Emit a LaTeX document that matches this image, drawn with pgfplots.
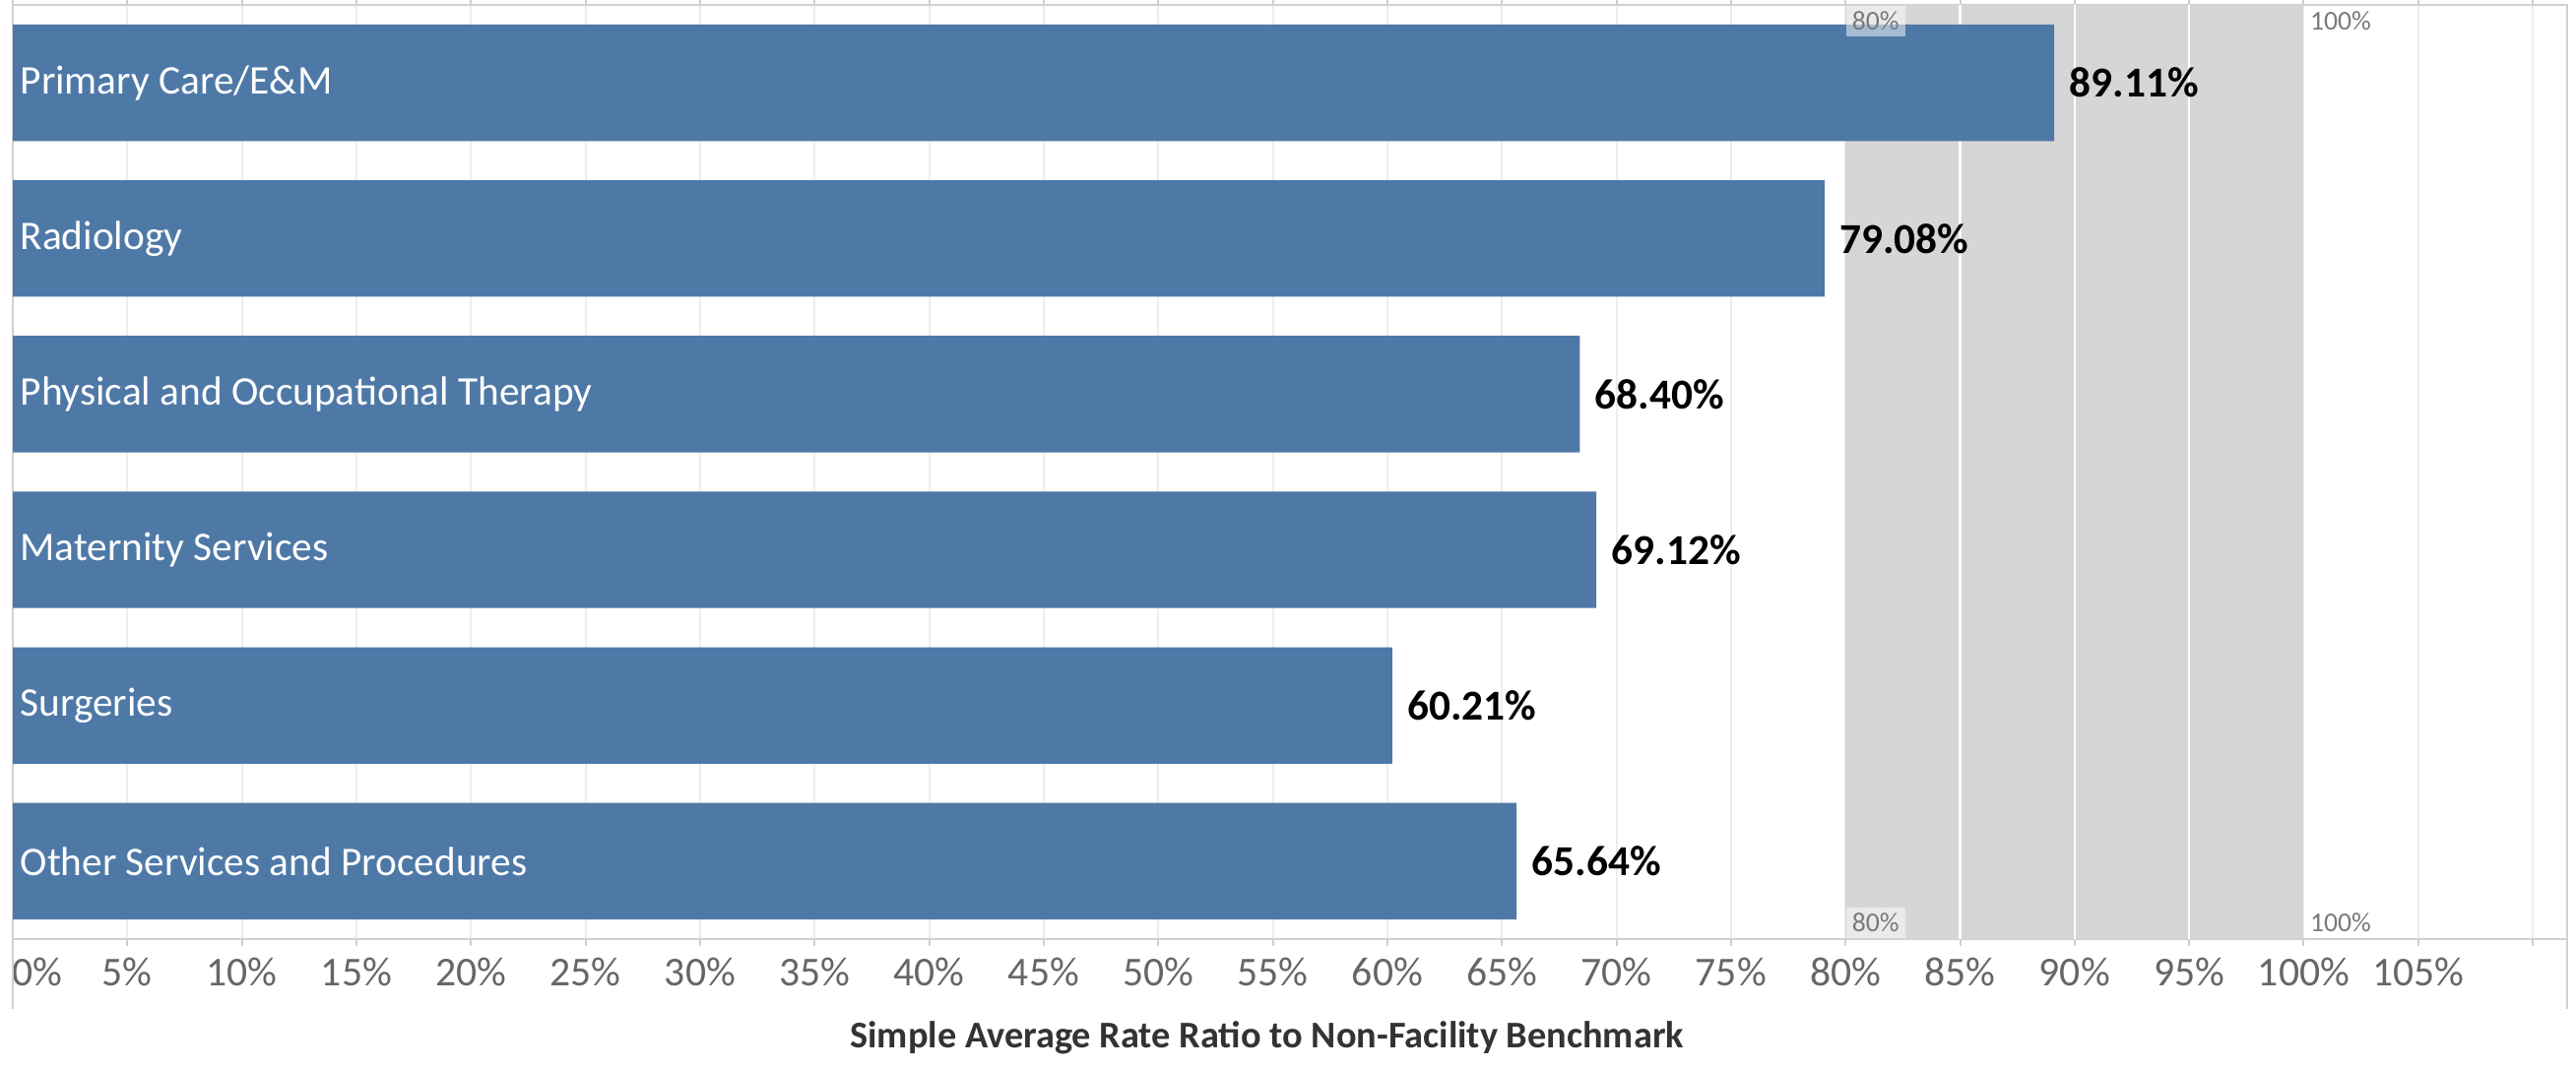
\documentclass[border=0pt]{standalone}
\usepackage{pgfplots}
\pgfplotsset{compat=1.18}
\usepackage{fontspec}
\setmainfont{Carlito}
\definecolor{barblue}{HTML}{4E79A7}
\definecolor{bandgray}{HTML}{D6D6D6}
\definecolor{gridgray}{HTML}{EDEDED}
\definecolor{framegray}{HTML}{D0D0D0}
\definecolor{ticklab}{HTML}{666666}
\definecolor{titlecol}{HTML}{333333}
\definecolor{smalllab}{HTML}{7A7A7A}
\begin{document}
\begin{tikzpicture}
\path[use as bounding box] (-3.9pt,-39.6pt) rectangle (780.9pt,286.2pt);
\begin{axis}[
  at={(0,0)}, anchor=south west,
  scale only axis, width=778.2pt, height=284.7pt,
  xmin=0, xmax=111.5, ymin=-0.5, ymax=5.5,
  clip=false,
  axis line style={draw=framegray, line width=0.6pt},
  xtick={5,10,...,110},
  xticklabels={5\%,10\%,15\%,20\%,25\%,30\%,35\%,40\%,45\%,50\%,55\%,60\%,65\%,70\%,75\%,80\%,85\%,90\%,95\%,100\%,105\%,{}},
  extra x ticks={0},
  extra x tick labels={0\%},
  extra x tick style={grid=none, xticklabel style={anchor=north west, xshift=-3.6pt}},
  ytick=\empty,
  xmajorgrids,
  grid style={draw=gridgray, line width=0.6pt},
  tick align=outside,
  major tick length=2.2pt,
  xtick style={draw=framegray, line width=0.6pt},
  xticklabel style={font=\fontsize{12.5}{14}\selectfont, text=ticklab},
  xlabel={Simple Average Rate Ratio to Non-Facility Benchmark},
  xlabel style={font=\bfseries\fontsize{11.5}{13}\selectfont, text=titlecol,
    at={(axis description cs:0.491,0)}, anchor=center, yshift=-30pt},
]
% reference band 80%-100%
\addplot[fill=bandgray, draw=none] coordinates {(80,-0.5) (80,5.5) (100,5.5) (100,-0.5)} -- cycle;
\addplot[white, line width=0.7pt] coordinates {(85,-0.5) (85,5.5)};
\addplot[white, line width=0.7pt] coordinates {(90,-0.5) (90,5.5)};
\addplot[white, line width=0.7pt] coordinates {(95,-0.5) (95,5.5)};
% bars
\addplot[xbar, bar width=35.5pt, fill=barblue, draw=none,
  point meta=x,
  nodes near coords={\pgfmathprintnumber[fixed,fixed zerofill,precision=2,assume math mode=true]{\pgfplotspointmeta}\%},
  nodes near coords align=horizontal,
  every node near coord/.append style={font=\bfseries\fontsize{13}{15}\selectfont, text=black, inner sep=0pt, xshift=4.5pt}]
  coordinates {(89.11,5) (79.08,4) (68.40,3) (69.12,2) (60.21,1) (65.64,0)};
% category labels
\begin{scope}[every node/.style={anchor=west, text=white, font=\fontsize{12.4}{14}\selectfont, inner sep=0pt}]
\node at (axis cs:0.3,5) {Primary Care/E\&M};
\node at (axis cs:0.3,4) {Radiology};
\node at (axis cs:0.3,3) {Physical and Occupational Therapy};
\node at (axis cs:0.3,2) {Maternity Services};
\node at (axis cs:0.3,1) {Surgeries};
\node at (axis cs:0.3,0) {Other Services and Procedures};
\end{scope}
% band labels
\tikzset{bandlab/.style={fill=white, fill opacity=0.5, text opacity=1, text=smalllab,
  font=\fontsize{8.3}{9}\selectfont, inner xsep=1.8pt, inner ysep=0pt, minimum height=9.5pt}}
\node[bandlab, anchor=north west] at (axis cs:80,5.5) {80\%};
\node[bandlab, anchor=south west] at (axis cs:80,-0.5) {80\%};
\node[bandlab, fill=none, anchor=north west] at (axis cs:100,5.5) {100\%};
\node[bandlab, fill=none, anchor=south west] at (axis cs:100,-0.5) {100\%};
% frame continuation
\draw[framegray, line width=0.6pt] (rel axis cs:0,0) -- ++(0,-45pt);
\draw[framegray, line width=0.6pt] (rel axis cs:1,0) -- ++(0,-45pt);
\end{axis}
\end{tikzpicture}
\end{document}
